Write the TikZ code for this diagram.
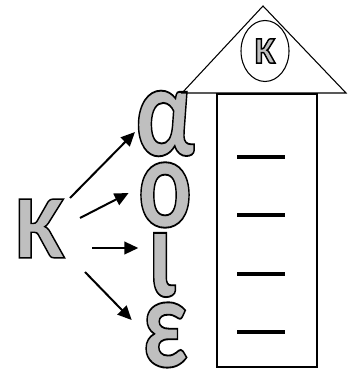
\documentclass[tikz,border=0pt]{standalone}
\usepackage{fontspec}
\newfontfamily\letfont{Carlito}
\usetikzlibrary{arrows.meta, shapes.geometric}
\newcommand{\outl}[1]{{\color{black!25}\special{pdf:code 0 G 2 Tr 1.1 w}#1\special{pdf:code 0 Tr}}}
\newcommand{\tallgr}[1]{\scalebox{0.97}[1.26]{\outl{#1}}}

\begin{document}
\begin{tikzpicture}[x=0.75pt, y=-0.75pt,
    letter/.style={inner sep=0pt, font=\letfont\bfseries\fontsize{78}{78}\selectfont},
    arr/.style={-{Triangle[length=10.5pt, width=9.5pt]}, line width=1.5pt}]
    \useasboundingbox (0,0) rectangle (357,377);

    \node[letter, font=\letfont\bfseries\fontsize{68}{68}\selectfont] (K) at (40,228.5) {\outl{K}};
    \node[letter] (al) at (165,123.5) {\tallgr{α}};
    \node[letter] (om) at (165,195) {\tallgr{ο}};
    \node[letter] (io) at (162,265) {\tallgr{ι}};
    \node[letter] (ep) at (165,335) {\tallgr{ε}};

    \coordinate (s1) at (70,198);
    \coordinate (s2) at (80,218);
    \coordinate (s3) at (92,248);
    \coordinate (s4) at (85,272);

    \draw[arr] (s1) -- ([yshift=-6.4pt]al.west);
    \draw[arr] (s2) -- ([xshift=-6.75pt, yshift=1.5pt]om.west);
    \draw[arr] (s3) -- ([xshift=-6.75pt, yshift=12.75pt]io.west);
    \draw[arr] (s4) -- ([xshift=-7.5pt, yshift=11.25pt]ep.west);

    \draw[line width=0.8pt] (182,93) -- (263,6) -- (346,93) -- cycle;
    \node[draw, ellipse, line width=0.8pt, minimum width=36pt, minimum height=45.75pt, inner sep=0pt] (top) at (265,51)
        {\letfont\bfseries\fontsize{28}{28}\selectfont\outl{K}};
    \draw[line width=0.8pt] (217,94) rectangle (317,367);
    \foreach \y in {157,215,274,332}
        \draw[line width=3pt] (237,\y) -- (285,\y);
\end{tikzpicture}
\end{document}
